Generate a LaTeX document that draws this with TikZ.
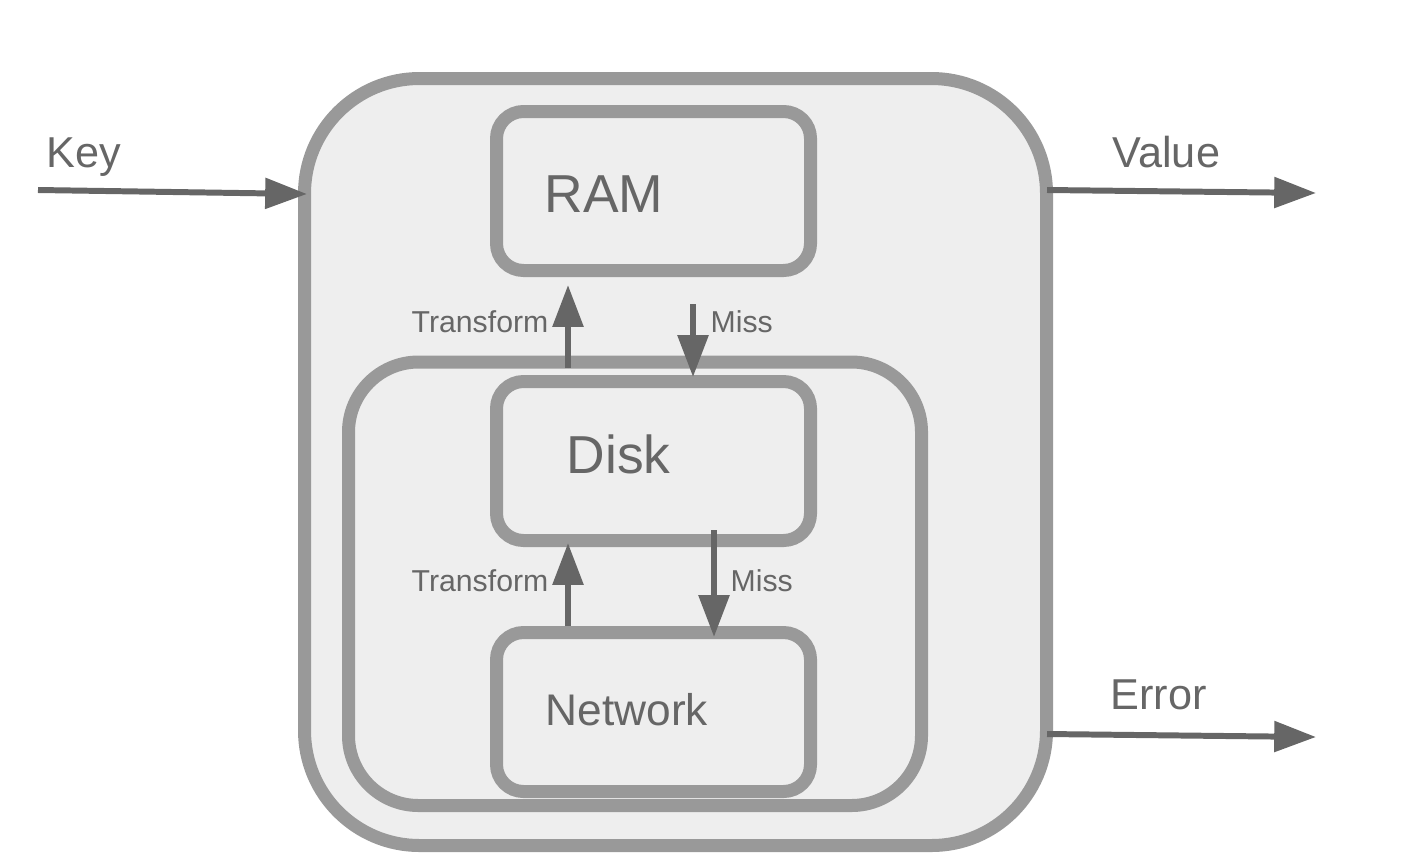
\documentclass[tikz,border=0pt]{standalone}
\usepackage{fontspec}
\setmainfont{Liberation Sans}
\usetikzlibrary{arrows.meta,calc}

\definecolor{boxfill}{HTML}{EEEEEE}
\definecolor{boxline}{HTML}{999999}
\definecolor{darkline}{HTML}{666666}

\begin{document}
\begin{tikzpicture}[
    box/.style={draw=boxline,fill=boxfill,line width=3.7pt,rectangle,rounded corners=#1,inner sep=0pt},
    box/.default=0.27cm,
    arr/.style={draw=darkline,fill=darkline,line width=1.7pt,-{Triangle[length=11.9pt,width=8.5pt]}},
    lbl/.style={anchor=base west,inner sep=0pt,text=darkline},
    big/.style={font=\fontsize{15.2pt}{18pt}\selectfont},
    mid/.style={font=\fontsize{12.3pt}{15pt}\selectfont},
    small/.style={font=\fontsize{8.6pt}{10pt}\selectfont}]
    \useasboundingbox (0,0) rectangle (14.04,8.62);

    % boxes
    \node[box=1.15cm,minimum width=7.42cm,minimum height=7.67cm] (outer) at (6.755,4.00) {};
    \node[box=0.70cm,minimum width=5.73cm,minimum height=4.435cm] (store) at (6.35,2.7825) {};
    \node[box,minimum width=3.14cm,minimum height=1.59cm] (ram) at (6.535,6.71) {};
    \node[box,minimum width=3.14cm,minimum height=1.59cm] (disk) at (6.535,4.01) {};
    \node[box,minimum width=3.14cm,minimum height=1.59cm] (network) at (6.535,1.50) {};

    % labels
    \node[lbl,big] (ramlbl) at (5.44,6.50) {RAM};
    \node[lbl,big] (disklbl) at (5.66,3.89) {Disk};
    \node[lbl,mid,font=\fontsize{12.6pt}{15pt}\selectfont] (netlbl) at (5.45,1.37) {Network};
    \node[lbl,mid] (keylbl) at (0.46,6.95) {Key};
    \node[lbl,mid] (vallbl) at (11.12,6.95) {Value};
    \node[lbl,mid] (errlbl) at (11.10,1.53) {Error};
    \node[lbl,small] (trtop) at (4.11,5.30) {Transform};
    \node[lbl,small] (misstop) at (7.10,5.30) {Miss};
    \node[lbl,small] (trbot) at (4.11,2.71) {Transform};
    \node[lbl,small] (missbot) at (7.30,2.71) {Miss};

    % ends and columns
    \coordinate (upx) at (5.68,0);
    \coordinate (missa) at (6.93,0);
    \coordinate (missb) at (7.14,0);
    \coordinate (keyin) at (0.38,6.72);
    \coordinate (valout) at (13.16,6.69);
    \coordinate (errout) at (13.16,1.25);

    % edges
    \draw[arr] (keyin) -- ($(outer.west |- keyin)+(0.09,-0.04)$);
    \draw[arr] ($(outer.east |- valout)+(-0.06,0.03)$) -- (valout);
    \draw[arr] ($(outer.east |- errout)+(-0.06,0.03)$) -- (errout);
    \draw[arr] ($(store.north -| upx)+(0,-0.125)$) -- ($(ram.south -| upx)+(0,-0.08)$);
    \draw[arr] ($(ram.south -| missa)+(0,-0.27)$) -- ($(disk.north -| missa)+(0,-0.02)$);
    \draw[arr] (network.north -| upx) -- ($(disk.south -| upx)+(0,0.04)$);
    \draw[arr] ($(disk.south -| missb)+(0,0.17)$) -- ($(network.north -| missb)+(0,-0.11)$);
\end{tikzpicture}
\end{document}
